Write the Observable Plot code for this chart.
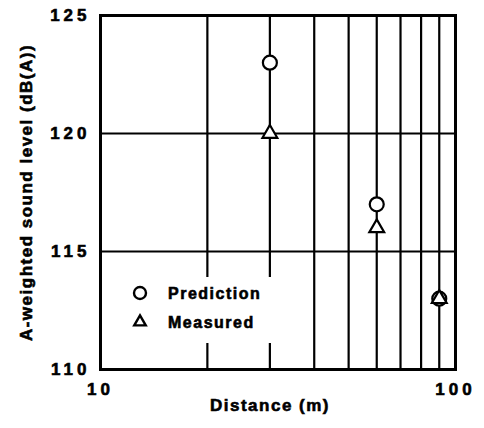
<!DOCTYPE html>
<html>
<head>
<meta charset="utf-8">
<script src="https://cdn.jsdelivr.net/npm/d3@7"></script>
<script src="https://cdn.jsdelivr.net/npm/@observablehq/plot@0.6"></script>
<style>
  html, body { margin: 0; padding: 0; background: #fff; }
  #wrap { position: relative; width: 484px; height: 428px; font-family: "Liberation Sans", Arial, sans-serif; }
  #wrap svg text { letter-spacing: 1.5px; stroke: #000; stroke-width: 0.6px; }
  #wrap svg g[aria-label$="tick label"] text { letter-spacing: 4px; }
  #legend { position: absolute; left: 102px; top: 277px; width: 188px; height: 66px; background: #fff; }
</style>
</head>
<body>
<div id="wrap"></div>
<script>
const distance = [30, 60, 90];
const prediction = [123, 117, 113];
const measured = [120, 116, 113];
const seriesNames = ["Prediction", "Measured"];
const seriesSymbols = ["circle", "triangle"];
const xTicks = [10, 100];
const yTicks = [110, 115, 120, 125];
const xGrid = [20, 30, 40, 50, 60, 70, 80, 90];
const yGrid = [115, 120];
const xTitle = "Distance (m)";
const yTitle = "A-weighted sound level (dB(A))";

const predData = distance.map((d, i) => ({x: d, y: prediction[i]}));
const measData = distance.map((d, i) => ({x: d, y: measured[i]}));

const chart = Plot.plot({
  width: 484,
  height: 428,
  marginLeft: 100,
  marginRight: 29,
  marginTop: 15,
  marginBottom: 59,
  style: {fontFamily: "'Liberation Sans', Arial, sans-serif", fontWeight: "bold", fontSize: "17px", color: "#000", background: "#fff"},
  x: {type: "log", domain: [10, 100]},
  y: {domain: [110, 125]},
  marks: [
    Plot.ruleX(xGrid, {stroke: "#000", strokeWidth: 2.2}),
    Plot.ruleY(yGrid, {stroke: "#000", strokeWidth: 2.2}),
    Plot.frame({stroke: "#000", strokeWidth: 3}),
    Plot.axisX(xTicks, {tickSize: 0, tickPadding: 13, tickFormat: d => String(d), label: null}),
    Plot.axisY(yTicks, {tickSize: 0, tickPadding: 10, tickFormat: d => String(d), label: null}),
    Plot.text([xTitle], {text: d => d, frameAnchor: "bottom", dy: 41, dx: -8, fontSize: 17, fontWeight: "bold", fill: "#000"}),
    Plot.text([yTitle], {text: d => d, frameAnchor: "left", textAnchor: "middle", dx: -74, rotate: -90, fontSize: 17, fontWeight: "bold", fill: "#000"}),
    Plot.dot(predData, {x: "x", y: "y", symbol: seriesSymbols[0], r: 7, fill: "#fff", stroke: "#000", strokeWidth: 2.2}),
    Plot.dot(measData, {x: "x", y: "y", symbol: seriesSymbols[1], r: 5.5, fill: "#fff", stroke: "#000", strokeWidth: 2.2})
  ]
});

const wrap = document.getElementById("wrap");
wrap.appendChild(chart);

// Legend overlay (white box interrupting the grid lines, as in the original)
const legend = d3.select(wrap).append("div").attr("id", "legend");
const lsvg = legend.append("svg").attr("width", 188).attr("height", 66)
  .style("font-family", "'Liberation Sans', Arial, sans-serif");
const rowY = [16, 45];
const symSize = [Math.PI * 36, Math.PI * 5.5 * 5.5];
const symTypes = [d3.symbolCircle, d3.symbolTriangle2];
seriesNames.forEach((name, i) => {
  lsvg.append("path")
    .attr("d", d3.symbol(symTypes[i], symSize[i])())
    .attr("transform", `translate(38,${rowY[i]})`)
    .attr("fill", "#fff").attr("stroke", "#000").attr("stroke-width", 2.4);
  lsvg.append("text")
    .attr("x", 66).attr("y", rowY[i]).attr("dy", "0.35em")
    .attr("font-size", 16).attr("font-weight", "bold")
    .style("letter-spacing", "1.5px")
    .text(name);
});
</script>
</body>
</html>
